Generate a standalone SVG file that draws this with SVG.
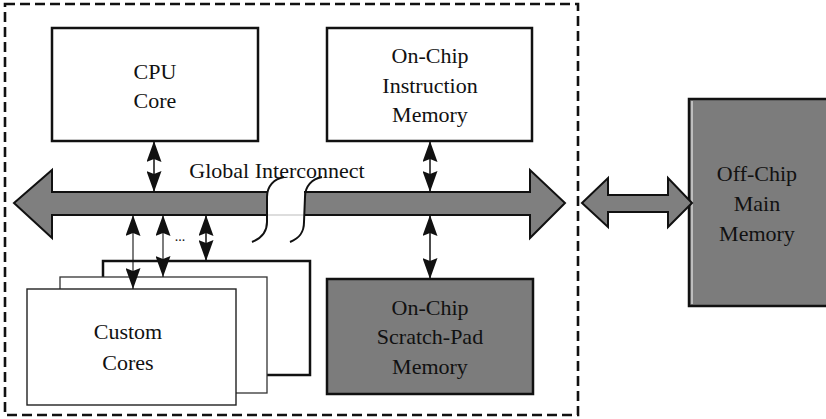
<svg xmlns="http://www.w3.org/2000/svg" width="826" height="419" viewBox="0 0 826 419">
  <style>
    .lbl { font-family: "Liberation Serif", "Times New Roman", serif; font-size: 22px; fill: #111; text-anchor: middle; }
    .box { fill: #fff; stroke: #111; stroke-width: 2.5; }
    .gray { fill: #7c7c7c; stroke: #111; stroke-width: 2.5; }
    .wire { stroke: #111; stroke-width: 1.5; fill: none; marker-start: url(#head); marker-end: url(#head); }
    .thin { stroke-width: 1.1; }
    .big { fill: #7f7f7f; stroke: #111; stroke-width: 2; stroke-linejoin: miter; }
  </style>
  <defs>
    <marker id="head" viewBox="0 0 21 15" refX="21" refY="7.5" markerWidth="21" markerHeight="15" markerUnits="userSpaceOnUse" orient="auto-start-reverse">
      <path d="M0,0 L21,7.5 L0,15 L3,7.5 Z" fill="#111"/>
    </marker>
  </defs>

  <!-- chip boundary -->
  <rect id="chip" x="5" y="4" width="573" height="411" fill="none" stroke="#111" stroke-width="2.6" stroke-dasharray="10,5"/>

  <!-- global interconnect bus -->
  <g id="bus">
    <polygon class="big" points="14,203 52,170 52,192 530,192 530,170 565,203 530,238 530,215 52,215 52,238"/>
    <rect x="267" y="190" width="37" height="27" fill="#fff"/>
    <line x1="267" y1="215" x2="304" y2="215" stroke="#bbb" stroke-width="1"/>
    <path d="M252,242 C262,238 267,232 267,222 L267,197 C267,186 274,179 284,177" fill="none" stroke="#111" stroke-width="2"/>
    <path d="M290,242 C300,238 304,232 304,222 L305,197 C305,186 312,179 322,177" fill="none" stroke="#111" stroke-width="2"/>
    <text class="lbl" x="277" y="178" font-size="23">Global Interconnect</text>
  </g>

  <!-- processing and memory blocks -->
  <g id="cpu">
    <rect class="box" x="52" y="28" width="206" height="113"/>
    <text class="lbl" x="155" y="79">CPU</text>
    <text class="lbl" x="155" y="108">Core</text>
  </g>

  <g id="imem">
    <rect class="box" x="327" y="28" width="205" height="113"/>
    <text class="lbl" x="430" y="63">On-Chip</text>
    <text class="lbl" x="430" y="93">Instruction</text>
    <text class="lbl" x="430" y="122">Memory</text>
  </g>

  <g id="custom">
    <rect x="103" y="261" width="207" height="114" fill="#fff" stroke="#111" stroke-width="2.5"/>
    <rect x="60" y="277" width="207" height="116" fill="#fff" stroke="#333" stroke-width="1.3"/>
    <rect x="27" y="289" width="209" height="116" fill="#fff" stroke="#222" stroke-width="1.4"/>
    <text class="lbl" x="128" y="339">Custom</text>
    <text class="lbl" x="128" y="370">Cores</text>
  </g>

  <g id="spm">
    <rect class="gray" x="327" y="279" width="206" height="115"/>
    <text class="lbl" x="430" y="315">On-Chip</text>
    <text class="lbl" x="430" y="344">Scratch-Pad</text>
    <text class="lbl" x="430" y="374">Memory</text>
  </g>

  <g id="offchip">
    <rect x="689" y="99" width="145" height="207" fill="#7c7c7c" stroke="#111" stroke-width="2.5"/>
    <line x1="692" y1="101" x2="692" y2="304" stroke="#fff" stroke-width="1"/>
    <text class="lbl" x="757" y="181">Off-Chip</text>
    <text class="lbl" x="757" y="211">Main</text>
    <text class="lbl" x="757" y="241">Memory</text>
  </g>

  <!-- connectors -->
  <g id="connectors">
    <line class="wire" x1="154" y1="141" x2="154" y2="192"/>
    <line class="wire" x1="430" y1="141" x2="430" y2="192"/>
    <line class="wire" x1="430" y1="215" x2="430" y2="279"/>
    <line class="wire thin" x1="133" y1="215" x2="133" y2="289"/>
    <line class="wire thin" x1="163" y1="215" x2="163" y2="277"/>
    <line class="wire" x1="206" y1="215" x2="206" y2="261"/>
    <text x="180" y="241" font-family="Liberation Serif, serif" font-size="14" fill="#111" text-anchor="middle">...</text>
    <polygon class="big" points="582,203 608,178 608,195 668,195 668,178 692,203 668,227 668,212 608,212 608,227"/>
  </g>
</svg>
